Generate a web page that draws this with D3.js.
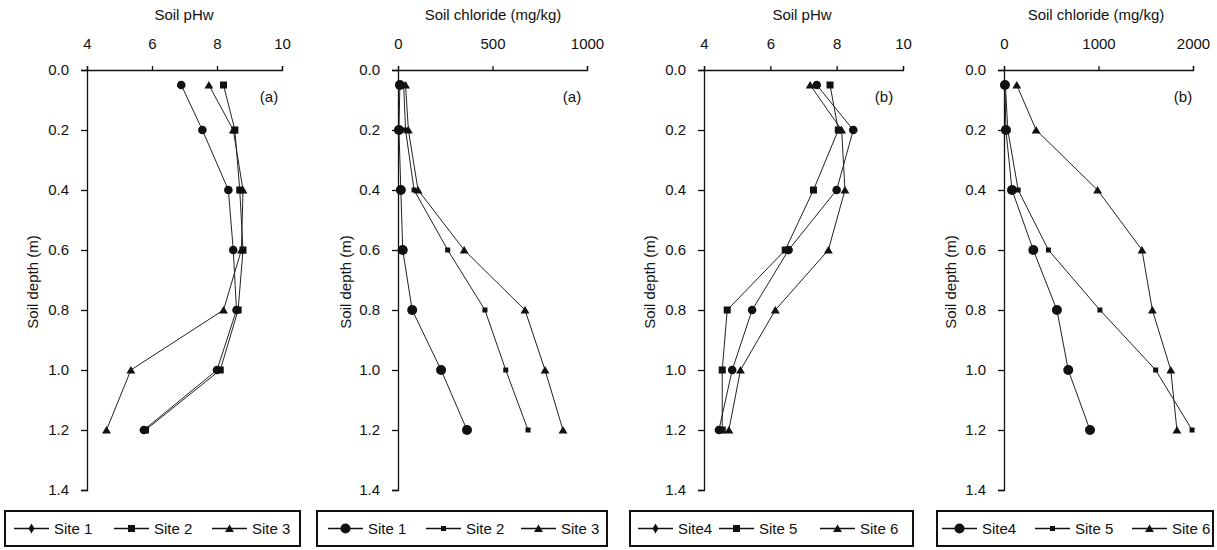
<!DOCTYPE html>
<html>
<head>
<meta charset="utf-8">
<script src="https://cdn.jsdelivr.net/npm/d3@7"></script>
<style>
  body { margin: 0; background: #fff; }
  svg { display: block; }
  text { font-family: "Liberation Sans", Arial, sans-serif; fill: #111; }
</style>
</head>
<body>
<svg id="chart" width="1217" height="550"></svg>
<script>
// ---- data ----
const depths = [0.05, 0.2, 0.4, 0.6, 0.8, 1.0, 1.2];
const depthTicks = [0.0, 0.2, 0.4, 0.6, 0.8, 1.0, 1.2, 1.4];

const phTicks = [4, 6, 8, 10];
const clTicksA = [0, 500, 1000];
const clTicksB = [0, 1000, 2000];

const siteNamesA = ["Site 1", "Site 2", "Site 3"];
const siteNamesB = ["Site4", "Site 5", "Site 6"];

// Panel (a) soil pHw
const phSite1 = [6.9, 7.55, 8.35, 8.5, 8.6, 8.0, 5.75];
const phSite2 = [8.2, 8.55, 8.7, 8.8, 8.65, 8.1, 5.8];
const phSite3 = [7.75, 8.5, 8.8, 8.75, 8.2, 5.35, 4.6];

// Panel (a) soil chloride
const clSite1 = [10, 5, 15, 25, 75, 228, 365];
const clSite2 = [30, 40, 85, 263, 460, 570, 688];
const clSite3 = [40, 55, 106, 350, 672, 778, 873];

// Panel (b) soil pHw
const phSite4 = [7.4, 8.5, 8.0, 6.55, 5.45, 4.85, 4.45];
const phSite5 = [7.8, 8.05, 7.3, 6.45, 4.7, 4.55, 4.55];
const phSite6 = [7.2, 8.15, 8.25, 7.75, 6.15, 5.1, 4.75];

// Panel (b) soil chloride
const clSite4 = [10, 20, 85, 310, 560, 680, 910];
const clSite5 = [15, 40, 150, 470, 1015, 1605, 1990];
const clSite6 = [135, 340, 990, 1460, 1570, 1765, 1830];

// ---- layout ----
const panels = [
  { title: "Soil pHw", domain: [4, 10], range: [87, 282], ticks: phTicks, tag: "(a)", tagX: 269,
    series: [phSite1, phSite2, phSite3], names: siteNamesA, big: false,
    legend: [5, 300], items: [14, 114, 212], titleX: 184, yTitleX: 38 },
  { title: "Soil chloride (mg/kg)", domain: [0, 1000], range: [398, 587], ticks: clTicksA, tag: "(a)", tagX: 572,
    series: [clSite1, clSite2, clSite3], names: siteNamesA, big: true,
    legend: [317, 607], items: [328, 426, 521], titleX: 493, yTitleX: 351 },
  { title: "Soil pHw", domain: [4, 10], range: [704, 903], ticks: phTicks, tag: "(b)", tagX: 884,
    series: [phSite4, phSite5, phSite6], names: siteNamesB, big: false,
    legend: [630, 913], items: [638, 719, 820], titleX: 802, yTitleX: 655 },
  { title: "Soil chloride (mg/kg)", domain: [0, 2000], range: [1004, 1193], ticks: clTicksB, tag: "(b)", tagX: 1183,
    series: [clSite4, clSite5, clSite6], names: siteNamesB, big: true,
    legend: [937, 1213], items: [942, 1035, 1132], titleX: 1096, yTitleX: 956 }
];

const svg = d3.select("#chart");
const y = d3.scaleLinear().domain([0, 1.4]).range([70, 490]);

function drawMarker(g, type, big, cx, cy, legend) {
  if (type === 0) {
    const r = big ? 5 : 4.3;
    if (!big && legend) {
      g.append("path").attr("d", d3.symbol(d3.symbolDiamond, 30)())
        .attr("transform", `translate(${cx},${cy})`).attr("fill", "#111");
    } else {
      g.append("circle").attr("cx", cx).attr("cy", cy).attr("r", r).attr("fill", "#111");
    }
  } else if (type === 1) {
    const s = big ? 5 : 7;
    g.append("rect").attr("x", cx - s / 2).attr("y", cy - s / 2)
      .attr("width", s).attr("height", s).attr("fill", "#111");
  } else {
    g.append("path").attr("d", d3.symbol(d3.symbolTriangle, 34)())
      .attr("transform", `translate(${cx},${cy + 1})`).attr("fill", "#111");
  }
}

panels.forEach(p => {
  const x = d3.scaleLinear().domain(p.domain).range(p.range);
  const g = svg.append("g");

  // top axis
  const xa = g.append("g").attr("transform", `translate(0,${y(0)})`)
    .call(d3.axisTop(x).tickValues(p.ticks).tickSize(4).tickSizeOuter(4).tickPadding(17)
      .tickFormat(d3.format("d")));
  xa.selectAll("text").attr("font-size", 15).attr("font-family", "Liberation Sans");
  xa.select(".domain").attr("stroke", "#111").attr("stroke-width", 1.3);
  xa.selectAll(".tick line").attr("stroke", "#111").attr("stroke-width", 1.3);

  // left axis
  const ya = g.append("g").attr("transform", `translate(${p.range[0]},0)`)
    .call(d3.axisLeft(y).tickValues(depthTicks).tickSize(6).tickSizeOuter(6).tickPadding(12)
      .tickFormat(d3.format(".1f")));
  ya.selectAll("text").attr("font-size", 15).attr("font-family", "Liberation Sans");
  ya.select(".domain").attr("stroke", "#111").attr("stroke-width", 1.3);
  ya.selectAll(".tick line").attr("stroke", "#111").attr("stroke-width", 1.3);

  // titles
  g.append("text").attr("x", p.titleX).attr("y", 20).attr("text-anchor", "middle")
    .attr("font-size", 15).text(p.title);
  g.append("text").attr("transform", `translate(${p.yTitleX},282) rotate(-90)`)
    .attr("text-anchor", "middle").attr("font-size", 15).text("Soil depth (m)");
  g.append("text").attr("x", p.tagX).attr("y", 102).attr("text-anchor", "middle")
    .attr("font-size", 15).text(p.tag);

  // series
  const line = d3.line().x(d => x(d[0])).y(d => y(d[1]));
  p.series.forEach((vals, si) => {
    const pts = vals.map((v, i) => [v, depths[i]]);
    g.append("path").attr("d", line(pts)).attr("fill", "none")
      .attr("stroke", "#222").attr("stroke-width", 1);
    pts.forEach(pt => drawMarker(g, si, p.big, x(pt[0]), y(pt[1]), false));
  });

  // legend
  const [lx0, lx1] = p.legend;
  const lg = g.append("g");
  lg.append("rect").attr("x", lx0).attr("y", 511).attr("width", lx1 - lx0).attr("height", 35)
    .attr("fill", "#fff").attr("stroke", "#111").attr("stroke-width", 2);
  p.names.forEach((nm, si) => {
    const sx = p.items[si];
    lg.append("line").attr("x1", sx).attr("x2", sx + 35).attr("y1", 528.5).attr("y2", 528.5)
      .attr("stroke", "#111").attr("stroke-width", 1.3);
    drawMarker(lg, si, p.big, sx + 17.5, 528.5, true);
    lg.append("text").attr("x", sx + 40).attr("y", 534).attr("font-size", 15).text(nm);
  });
});
</script>
</body>
</html>
